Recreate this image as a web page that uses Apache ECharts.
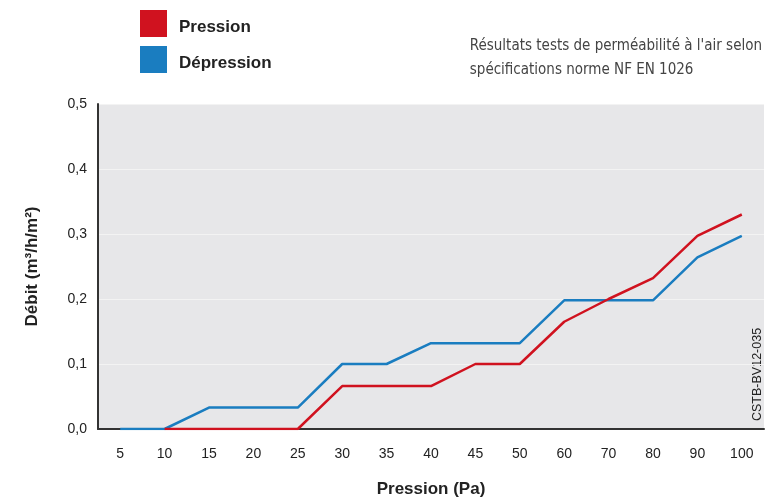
<!DOCTYPE html>
<html><head><meta charset="utf-8">
<script src="https://cdn.jsdelivr.net/npm/echarts@6/dist/echarts.min.js"></script>
<style>html,body{margin:0;padding:0;background:#fff}#c{width:766px;height:499px}</style>
</head><body><div id="c"></div>
<script>
const categories = ['5','10','15','20','25','30','35','40','45','50','60','70','80','90','100'];
const pression = [null,0,0,0,0,0.066,0.066,0.066,0.1,0.1,0.165,0.2,0.232,0.297,0.33];
const depression = [0,0,0.033,0.033,0.033,0.1,0.1,0.132,0.132,0.132,0.198,0.198,0.198,0.264,0.297];
const yTicks = [0,0.1,0.2,0.3,0.4,0.5];

const chart = echarts.init(document.getElementById('c'));
chart.setOption({
  animation:false,
  backgroundColor:'#fff',
  legend:{
    orient:'vertical', left:140, top:10, padding:0, itemWidth:27, itemHeight:27, itemGap:9,
    icon:'rect',
    formatter:'{a|{name}}',
    textStyle:{fontFamily:'Liberation Sans, Arial', fontWeight:'bold', fontSize:17, color:'#222',
      rich:{a:{fontFamily:'Liberation Sans, Arial', fontWeight:'bold', fontSize:17, color:'#222', padding:[8,0,0,7]}}},
    data:['Pression','Dépression']
  },
  grid:{left:98, right:2, top:104, bottom:70, backgroundColor:'#e7e7e9', show:true, borderWidth:0, outerBoundsMode:'none', containLabel:false},
  graphic:[
    {type:'text', right:4, top:34, style:{text:"Résultats tests de perméabilité à l'air selon\nspécifications norme NF EN 1026", align:'right', fontFamily:'DejaVu Sans Condensed', fontSize:15, lineHeight:24, fill:'#444', fontWeight:'normal'}},
    {type:'text', x:751, y:421, rotation:Math.PI/2, style:{text:'CSTB-BV12-035', fontFamily:'Liberation Sans, Arial', fontSize:12.5, fill:'#222', align:'left', verticalAlign:'top'}}
  ],
  xAxis:{
    type:'category', data:categories, boundaryGap:true,
    name:'Pression (Pa)', nameLocation:'middle', nameGap:52,
    nameTextStyle:{fontFamily:'Liberation Sans, Arial', fontWeight:'bold', fontSize:17, color:'#222'},
    axisLine:{lineStyle:{color:'#333', width:2}},
    axisTick:{show:false},
    axisLabel:{fontFamily:'Liberation Sans, Arial', fontSize:14, color:'#222', margin:18}
  },
  yAxis:{
    type:'value', min:0, max:0.5, interval:0.1,
    name:'Débit (m³/h/m²)', nameLocation:'middle', nameGap:57, nameRotate:90,
    nameTextStyle:{fontFamily:'Liberation Sans, Arial', fontWeight:'bold', fontSize:17, color:'#222'},
    axisLine:{show:true, lineStyle:{color:'#333', width:2}},
    axisTick:{show:false},
    splitLine:{lineStyle:{color:'#f3f3f3', width:1}},
    axisLabel:{fontFamily:'Liberation Sans, Arial', fontSize:14, color:'#222', margin:11,
      formatter:v=>{const t=yTicks.find(x=>Math.abs(x-v)<1e-9); return (t!==undefined?t:v).toFixed(1).replace('.',',');}}
  },
  series:[
    {name:'Dépression', type:'line', data:depression, symbol:'none', lineStyle:{color:'#1a7dc0', width:2.5}, itemStyle:{color:'#1a7dc0'}, z:2},
    {name:'Pression', type:'line', data:pression, symbol:'none', lineStyle:{color:'#d0121f', width:2.5}, itemStyle:{color:'#d0121f'}, z:3}
  ]
});
</script></body></html>
